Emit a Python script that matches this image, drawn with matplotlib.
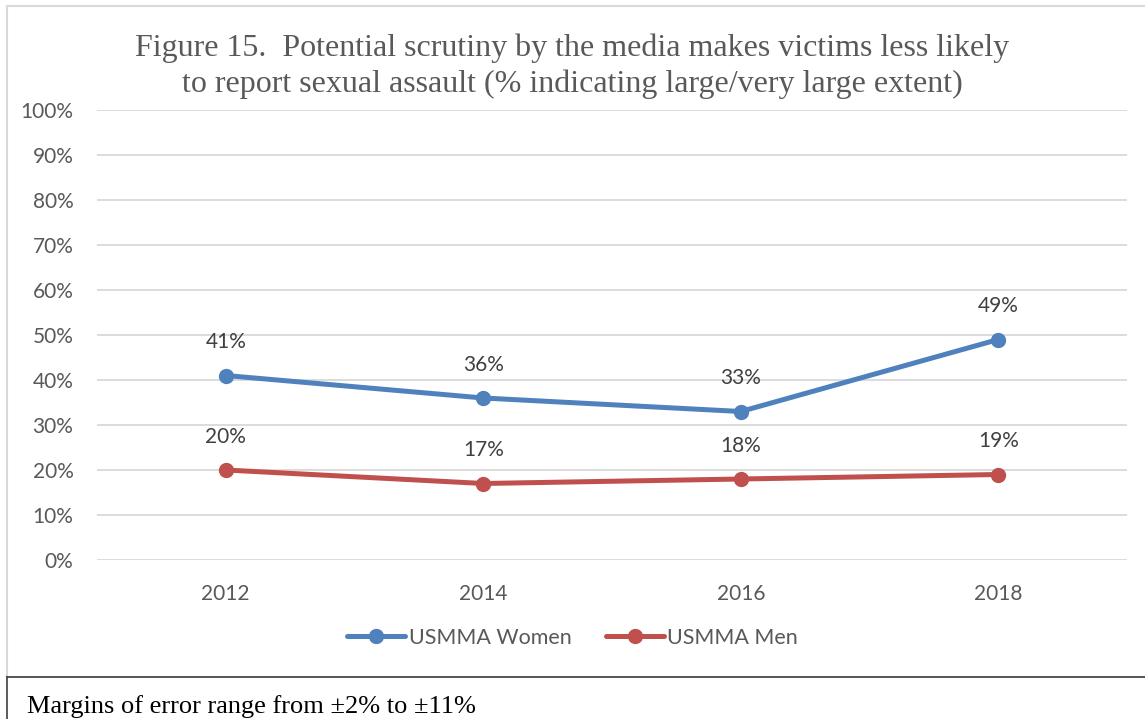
import matplotlib
matplotlib.use("Agg")
import matplotlib.pyplot as plt
from matplotlib.patches import Rectangle
from matplotlib.lines import Line2D

years = ["2012", "2014", "2016", "2018"]
women = [41, 36, 33, 49]
men = [20, 17, 18, 19]
series_names = ["USMMA Women", "USMMA Men"]
yticks = [0, 10, 20, 30, 40, 50, 60, 70, 80, 90, 100]
title = "Figure 15.  Potential scrutiny by the media makes victims less likely\nto report sexual assault (% indicating large/very large extent)"
note = "Margins of error range from \u00b12% to \u00b111%"

blue = "#4F81BD"
red = "#C0504D"
gray_text = "#595959"
sans = ["Lato", "DejaVu Sans"]
serif = ["Liberation Serif", "DejaVu Serif"]
fs = 15

W, H = 1145, 719
fig = plt.figure(figsize=(W / 100, H / 100), dpi=100)

# chart border
fig.patches.append(Rectangle((7 / W, 1 - 677 / H), 1.2, (677 - 6) / H,
                             transform=fig.transFigure, fill=False,
                             edgecolor="#d9d9d9", linewidth=1.5))
# note box lines
fig.add_artist(Line2D([7 / W, 1.0], [1 - 677 / H, 1 - 677 / H],
                      transform=fig.transFigure, color="#404040", linewidth=1.2))
fig.add_artist(Line2D([7 / W, 7 / W], [0, 1 - 677 / H],
                      transform=fig.transFigure, color="#404040", linewidth=1.2))

ax = fig.add_axes([97 / W, 1 - 560 / H, (1127 - 97) / W, (560 - 110) / H])
x = list(range(len(years)))
ax.plot(x, women, color=blue, linewidth=3.6, marker="o", markersize=10,
        label=series_names[0], solid_capstyle="round")
ax.plot(x, men, color=red, linewidth=3.6, marker="o", markersize=10,
        label=series_names[1], solid_capstyle="round")

for xi, v in zip(x, women):
    ax.annotate(f"{v}%", (xi, v), xytext=(0, 24), textcoords="offset points",
                ha="center", va="center", fontsize=fs, color="#404040", family=sans)
for xi, v in zip(x, men):
    ax.annotate(f"{v}%", (xi, v), xytext=(0, 24), textcoords="offset points",
                ha="center", va="center", fontsize=fs, color="#404040", family=sans)

ax.set_xlim(-0.5, len(years) - 0.5)
ax.set_ylim(0, 100)
ax.set_yticks(yticks)
ax.set_yticklabels([f"{t}%" for t in yticks], family=sans, fontsize=fs, color=gray_text)
ax.set_xticks(x)
ax.set_xticklabels(years, family=sans, fontsize=fs, color=gray_text)
ax.tick_params(axis="both", length=0)
ax.tick_params(axis="y", pad=17)
ax.tick_params(axis="x", pad=17)
ax.grid(axis="y", color="#d9d9d9", linewidth=1.3)
ax.set_axisbelow(True)
for s in ax.spines.values():
    s.set_visible(False)
ax.set_facecolor("none")

leg = fig.legend(loc="center", bbox_to_anchor=(0.5, 1 - 638 / H), ncol=2, frameon=False,
                 prop={"family": sans, "size": 15.5}, handlelength=2.7,
                 handletextpad=0.15, columnspacing=1.6)
for t in leg.get_texts():
    t.set_color(gray_text)

fig.text(0.5, 1 - 66 / H, title, ha="center", va="center", fontsize=23,
         color=gray_text, family=serif, linespacing=1.3)
fig.text(27 / W, 1 - 707 / H, note, ha="left", va="center", fontsize=19,
         color="black", family=serif)

fig.savefig("out.png", dpi=100)
